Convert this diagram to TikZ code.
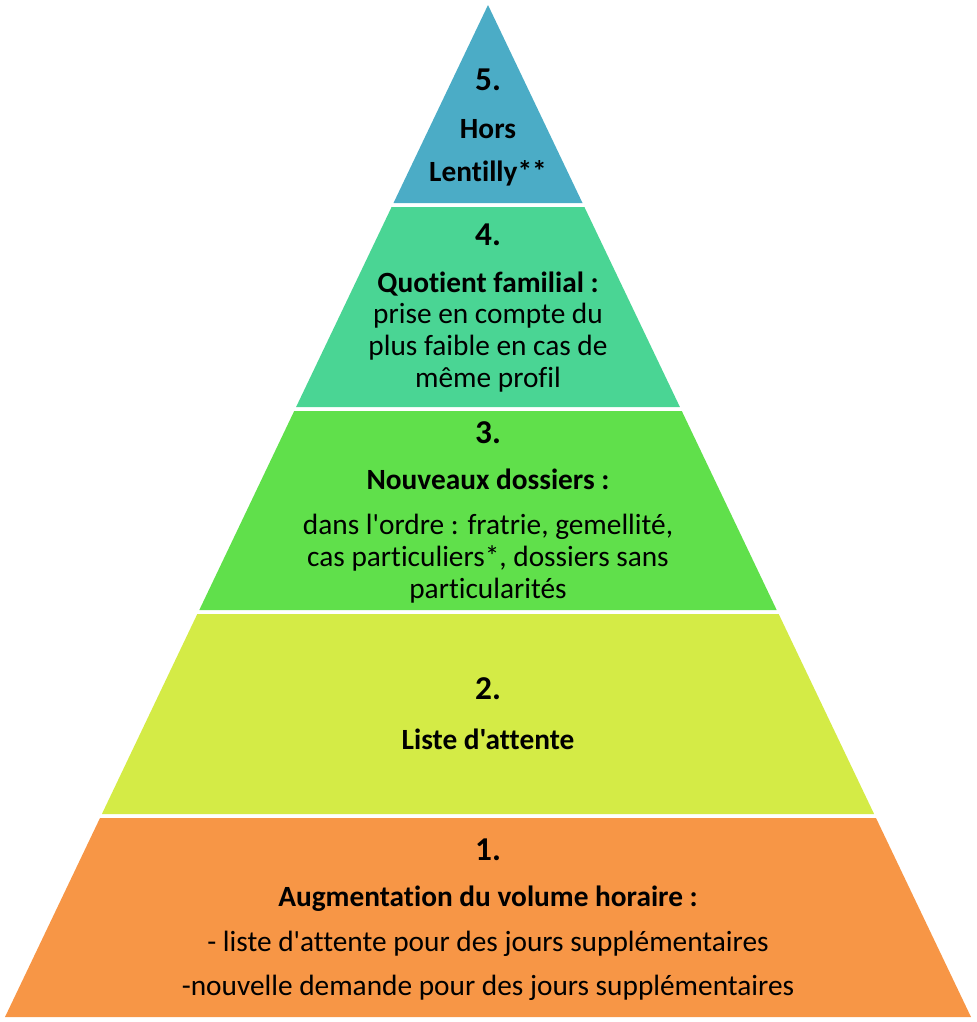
\documentclass[tikz,border=0pt]{standalone}
\usepackage{fontspec}
\setmainfont[Ligatures={TeXOff,NoCommon}]{Carlito}
\usetikzlibrary{positioning}
\definecolor{tierfive}{HTML}{4BACC6}
\definecolor{tierfour}{HTML}{4AD594}
\definecolor{tierthree}{HTML}{60E04B}
\definecolor{tiertwo}{HTML}{D4EB46}
\definecolor{tierone}{HTML}{F79646}

\begin{document}
\begin{tikzpicture}[x=0.75pt, y=-0.75pt,
    num/.style={font=\fontsize{25}{30}\selectfont\bfseries, inner sep=0pt, anchor=base},
    head/.style={font=\fontsize{22}{26}\selectfont\bfseries, inner sep=0pt, anchor=base},
    body/.style={font=\fontsize{22}{26}\selectfont, inner sep=0pt, anchor=base}
  ]
    \useasboundingbox (0,0) rectangle (976,1022);

    % Pyramid tiers
    \fill[tierfive]  (488,5) -- (582.5,203) -- (393.5,203) -- cycle;
    \fill[tierfour]  (391.6,207) -- (584.4,207) -- (679.9,407) -- (296.1,407) -- cycle;
    \fill[tierthree] (294.2,411) -- (681.8,411) -- (776.7,610) -- (199.3,610) -- cycle;
    \fill[tiertwo]   (197.3,614) -- (778.7,614) -- (874.1,814) -- (101.9,814) -- cycle;
    \fill[tierone]   (100,818) -- (876,818) -- (971,1017) -- (5,1017) -- cycle;

    % Tier 5
    \node[num] (num5) at (488,90) {5.};
    \node[head] (hors) at (488,138) {Hors};
    \node[head] (lentilly) at (488,181) {Lentilly**};

    % Tier 4
    \node[num] (num4) at (488,245) {4.};
    \node[head] (quotient) at (488,292) {Quotient familial :};
    \node[body] (prise) at (488,323) {prise en compte du};
    \node[body] (faible) at (488,355) {plus faible en cas de};
    \node[body] (profil) at (488,387) {même profil};

    % Tier 3
    \node[num] (num3) at (488,443) {3.};
    \node[head] (nouveaux) at (488,489) {Nouveaux dossiers :};
    \node[body] (ordre) at (488,534) {dans l'ordre : fratrie, gemellité,};
    \node[body] (cas) at (488,566) {cas particuliers*, dossiers sans};
    \node[body] (partic) at (488,598) {particularités};

    % Tier 2
    \node[num] (num2) at (488,699) {2.};
    \node[head] (liste) at (488,749) {Liste d'attente};

    % Tier 1
    \node[num] (num1) at (488,860) {1.};
    \node[head] (augment) at (488,906) {Augmentation du volume horaire :};
    \node[body] (attente) at (488,951) {- liste d'attente pour des jours supplémentaires};
    \node[body] (demande) at (488,995) {-nouvelle demande pour des jours supplémentaires};
  \end{tikzpicture}
\end{document}
